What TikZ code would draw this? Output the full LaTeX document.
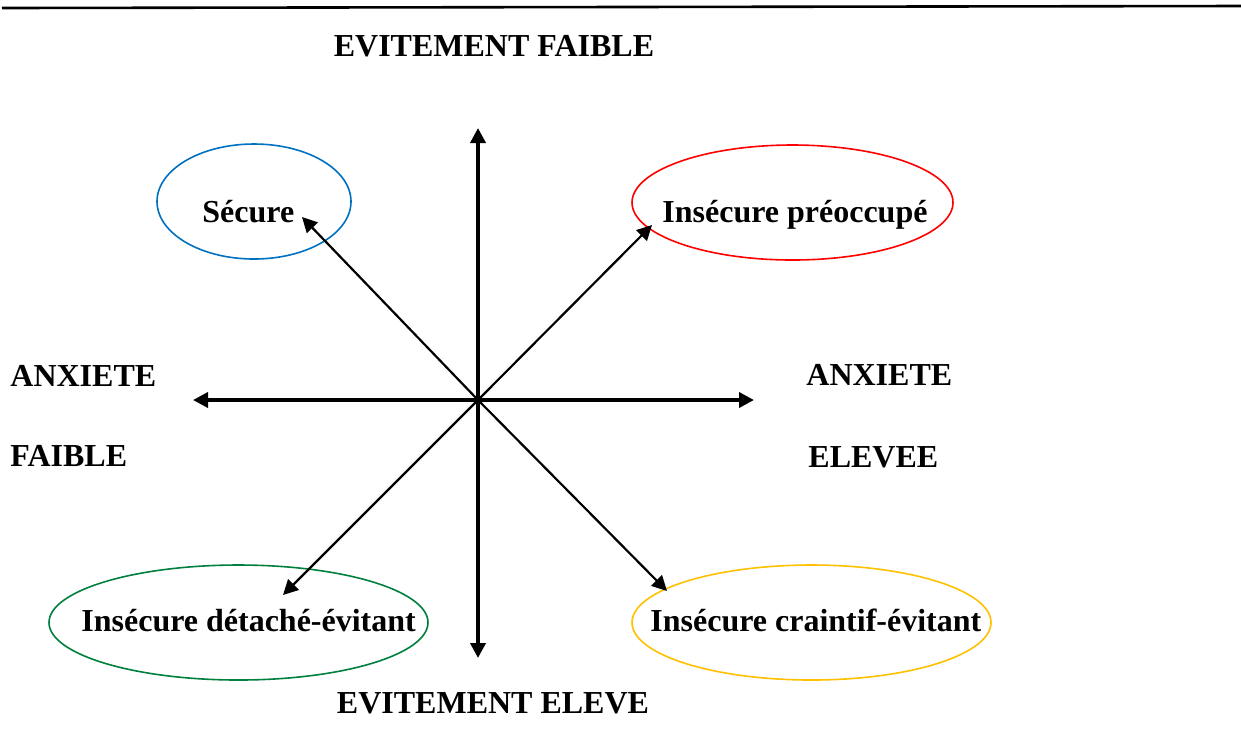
\documentclass[tikz,border=0pt]{standalone}
\usepackage{fontspec}
\setmainfont{Liberation Serif}
\usetikzlibrary{arrows.meta,shapes.geometric}
\definecolor{secblue}{RGB}{0,112,192}
\definecolor{detgreen}{RGB}{0,128,60}
\definecolor{craigold}{RGB}{255,192,0}
\tikzset{
  lbl/.style={anchor=base west,font=\fontsize{16}{19}\selectfont\bfseries,inner sep=0pt},
  axe/.style={line width=1.8pt,-{Triangle[length=7.5pt,width=7.5pt]}},
  diag/.style={line width=1.1pt,-{Triangle[length=7.5pt,width=7.5pt]}},
  oval/.style={ellipse,draw,line width=0.8pt,inner sep=0pt}
}

\begin{document}
\begin{tikzpicture}[x=0.5pt,y=-0.5pt]
  \useasboundingbox (0,0) rectangle (1241,736);
  \draw[line width=1.3pt] (2,8) -- (1241,6);

  \node[oval,secblue,minimum width=97pt,minimum height=57.5pt] (secure) at (254,201.5) {};
  \node[oval,red,minimum width=160.5pt,minimum height=57.5pt] (preocc) at (792.5,202.5) {};
  \node[oval,detgreen,minimum width=189.5pt,minimum height=57.5pt] (detache) at (238.5,622.5) {};
  \node[oval,craigold,minimum width=179.5pt,minimum height=57.5pt] (craintif) at (811.5,622.5) {};

  \node[lbl] (tsecure) at (202,222) {Sécure};
  \node[lbl] (tpreocc) at (662,222) {Insécure préoccupé};
  \node[lbl] (tdetache) at (81,631) {Insécure détaché-évitant};
  \node[lbl] (tcraintif) at (650,631) {Insécure craintif-évitant};

  \node[lbl,anchor=base] (evfaible) at (494,56) {EVITEMENT FAIBLE};
  \node[lbl,anchor=base] (eveleve) at (493,713) {EVITEMENT ELEVE};
  \node[lbl] (anxg) at (10,386) {ANXIETE};
  \node[lbl] (faible) at (10,466) {FAIBLE};
  \node[lbl] (anxd) at (806,385) {ANXIETE};
  \node[lbl] (elevee) at (808,467) {ELEVEE};

  \coordinate (O) at (478,400);
  \coordinate (haut) at (478,128);
  \coordinate (bas) at (478,658);
  \coordinate (gauche) at (193,400);
  \coordinate (droite) at (754,400);
  \coordinate (psecure) at (302,217);
  \coordinate (ppreocc) at (652,225);
  \coordinate (pdetache) at (283,595);
  \coordinate (pcraintif) at (667,591);

  \draw[axe] (O) -- (haut);
  \draw[axe] (O) -- (bas);
  \draw[axe] (O) -- (gauche);
  \draw[axe] (O) -- (droite);
  \draw[diag] (O) -- (psecure);
  \draw[diag] (O) -- (ppreocc);
  \draw[diag] (O) -- (pdetache);
  \draw[diag] (O) -- (pcraintif);
\end{tikzpicture}
\end{document}
